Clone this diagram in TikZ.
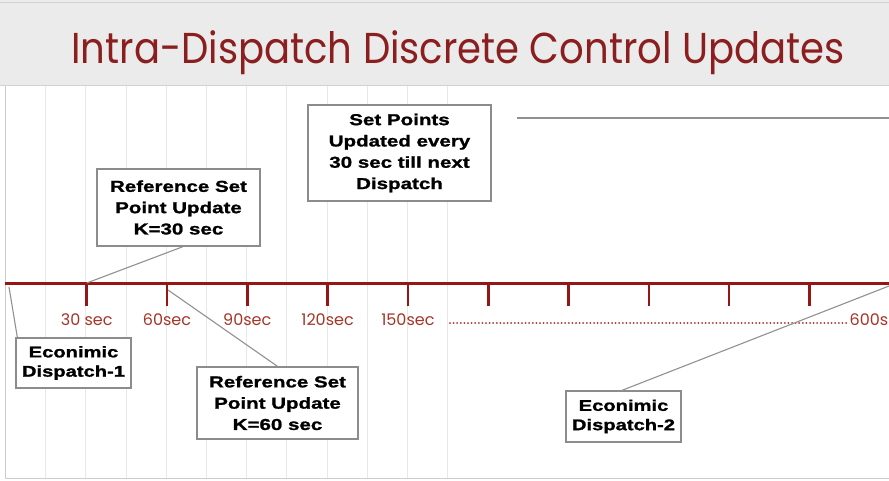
\documentclass[tikz,border=0pt]{standalone}
\usepackage{fontspec}
\setmainfont{Liberation Sans}
\newfontfamily\headfont{Poppins}
\newfontfamily\boxfont{Liberation Sans}[FakeStretch=1.3,FakeBold=1.2]

\definecolor{titlered}{RGB}{139,30,30}
\definecolor{axisred}{RGB}{150,22,22}
\definecolor{labelred}{RGB}{168,52,40}
\definecolor{bandgray}{RGB}{235,235,235}
\definecolor{bandedge}{RGB}{210,210,210}
\definecolor{gridgray}{RGB}{232,232,232}
\definecolor{framegray}{RGB}{205,205,205}
\definecolor{boxgray}{RGB}{140,140,140}
\definecolor{leadgray}{RGB}{145,145,145}

\begin{document}
\begin{tikzpicture}[x=1pt,y=-1pt,
  gridline/.style={draw=gridgray, line width=1pt},
  timeline/.style={draw=axisred, line width=3pt},
  tickmark/.style={draw=axisred, line width=2.6pt},
  ticklabel/.style={text=labelred, font=\headfont\fontsize{16}{16}\selectfont, anchor=base, inner sep=0pt},
  callout/.style={draw=boxgray, line width=1.3pt, fill=white, align=center, inner sep=0pt,
                  font=\boxfont\bfseries\fontsize{15.8}{21.3}\selectfont},
  shortcallout/.style={callout, font=\boxfont\bfseries\fontsize{15.5}{19.3}\selectfont},
  leader/.style={draw=leadgray, line width=1.1pt}]

\useasboundingbox (0,0) rectangle (889,480);
\fill[white] (0,0) rectangle (889,480);

% header band with the title
\fill[bandgray] (0,0) rectangle (889,85);
\draw[bandedge, line width=1.5pt] (0,2.5) -- (889,2.5);
\draw[bandedge, line width=1pt] (0,85.5) -- (889,85.5);
\node[anchor=base, text=titlered, inner sep=0pt, font=\headfont\fontsize{38.6}{40}\selectfont] (title) at (458,63)
  {\scalebox{1}[1.12]{Intra-Dispatch Discrete Control Updates}};

% background grid and frame
\foreach \k in {0,...,10}
  \draw[gridline] ({45.7+40.2*\k},86) -- ({45.7+40.2*\k},478);
\draw[framegray, line width=1pt] (5,86) -- (5,478) -- (889,478);

% free ends of the leader lines
\coordinate (ed1) at (9,287);
\coordinate (t2low) at (168,290);
\coordinate (ed2) at (889,286);
\coordinate (sp1) at (517,118);
\coordinate (sp2) at (889,118);

% time axis with ticks every 30 s
\draw[timeline] (5,283) -- (889,283);
\foreach \k in {1,...,10} {
  \coordinate (t\k) at ({86.7+80.3*(\k-1)},283);
  \draw[tickmark] (t\k) -- ++(0,23);
}

% tick labels
\node[ticklabel] (l1) at (86.7,325) {30 sec};
\node[ticklabel] (l2) at (167,325) {60sec};
\node[ticklabel] (l3) at (247.3,325) {90sec};
\node[ticklabel] (l4) at (327.6,325) {120sec};
\node[ticklabel] (l5) at (407.9,325) {150sec};
\node[ticklabel, anchor=base east] (l20) at (888.5,325) {600s};
\coordinate (dots1) at (450,323);
\coordinate (dots2) at (847,323);
\draw[labelred, line width=2pt, line cap=round, dash pattern=on 0pt off 3.6pt] (dots1) -- (dots2);

% call-out boxes
\node[callout, minimum width=163pt, minimum height=77pt] (kA) at (178.5,207.5) {Reference Set\\Point Update\\K=30 sec};
\node[callout, minimum width=183pt, minimum height=96pt] (sp) at (399.5,153) {Set Points\\Updated every\\30 sec till next\\Dispatch};
\node[shortcallout, minimum width=115pt, minimum height=50pt] (ed1box) at (73.5,363) {Econimic\\Dispatch-1};
\node[callout, minimum width=161pt, minimum height=72pt] (kB) at (277.5,403) {Reference Set\\Point Update\\K=60 sec};
\node[shortcallout, minimum width=115pt, minimum height=51pt] (ed2box) at (623.5,416.5) {Econimic\\Dispatch-2};

% connectors
\draw[leader] (t1) -- ([xshift=4.5pt]kA.south);
\draw[leader] (t2low) -- (kB.north);
\draw[leader] (ed1) -- ([xshift=2pt]ed1box.north west);
\draw[leader] (ed2) -- ([xshift=-1.5pt]ed2box.north);
\draw[leader] (sp1) -- (sp2);
\end{tikzpicture}
\end{document}
